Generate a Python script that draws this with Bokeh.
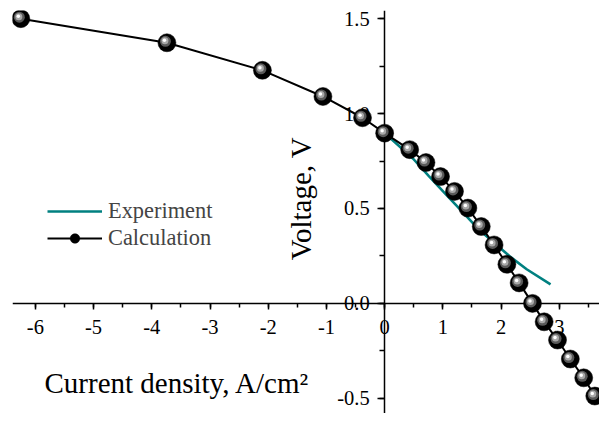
import numpy as np
from bokeh.plotting import figure
from bokeh.models import (Range1d, SingleIntervalTicker, NumeralTickFormatter,
                          Label, Legend, LegendItem)
from bokeh.embed import file_html
from bokeh.resources import INLINE

# ---- data ----
calc_x = [-6.25, -3.74, -2.10, -1.06, -0.38, 0.0, 0.43, 0.71, 0.96, 1.20, 1.43,
          1.66, 1.88, 2.10, 2.31, 2.54, 2.74, 2.97, 3.19, 3.42, 3.61]
calc_y = [1.50, 1.373, 1.228, 1.09, 0.978, 0.897, 0.81, 0.742, 0.668, 0.59, 0.502,
          0.405, 0.308, 0.206, 0.108, 0.0, -0.097, -0.193, -0.293, -0.392, -0.488]
exp_x = [0.0, 0.10, 0.49, 0.76, 1.04, 1.32, 1.60, 1.88, 2.16, 2.44, 2.85]
exp_y = [0.90, 0.87, 0.762, 0.67, 0.578, 0.487, 0.395, 0.32, 0.245, 0.18, 0.10]
series_names = ["Experiment", "Calculation"]
x_title = "Current density, A/cm²"
y_title = "Voltage, V"

FONT = "Liberation Serif"
TEAL = "#008080"
X0, X1 = -6.393, 3.691
Y0, Y1 = -0.58, 1.543
W, H = 599, 413
BL, BT = 12, 10

p = figure(width=W, height=H, output_backend="svg", toolbar_location=None,
           x_range=Range1d(X0, X1), y_range=Range1d(Y0, Y1),
           min_border_left=BL, min_border_right=0, min_border_top=BT, min_border_bottom=0)
p.outline_line_color = None
p.xgrid.visible = False
p.ygrid.visible = False
p.background_fill_color = "white"

# axes crossing at the origin
xa = p.xaxis[0]
ya = p.yaxis[0]
xa.fixed_location = 0
ya.fixed_location = 0
xa.ticker = SingleIntervalTicker(interval=1, num_minor_ticks=2)
ya.ticker = SingleIntervalTicker(interval=0.5, num_minor_ticks=2)
xa.formatter = NumeralTickFormatter(format="0")
ya.formatter = NumeralTickFormatter(format="0.0")
for ax in (xa, ya):
    ax.level = "underlay"
    ax.axis_line_width = 1.5
    ax.major_tick_line_width = 1.5
    ax.minor_tick_line_width = 1.5
    ax.major_tick_in = 0
    ax.minor_tick_in = 0
    ax.major_label_text_font = FONT
    ax.major_label_text_font_size = "20.5px"
    ax.major_label_text_color = "black"
    ax.axis_line_color = "black"
    ax.major_tick_line_color = "black"
    ax.minor_tick_line_color = "black"
xa.major_tick_out = 6
xa.minor_tick_out = 4
xa.major_label_standoff = 11
ya.major_tick_out = 7
ya.minor_tick_out = 5
ya.major_label_standoff = 8

# experiment curve
r_exp = p.line(exp_x, exp_y, line_color=TEAL, line_width=2.6)

# calculation curve with sphere-like markers
cx = np.array(calc_x)
cy = np.array(calc_y)
r_line = p.line(cx, cy, line_color="black", line_width=2)
r_ball = p.scatter(cx, cy, size=18, marker="circle", fill_color="black",
                   line_color="black", line_width=0.5)
# shading layers (offset a couple of pixels up-left)
px_x = (X1 - X0) / (W - BL)
px_y = (Y1 - Y0) / (H - BT)
p.scatter(cx - 1.5 * px_x, cy + 1.5 * px_y, size=11, marker="circle",
          fill_color="#5a5a5a", line_color=None)
p.scatter(cx - 2.0 * px_x, cy + 2.0 * px_y, size=7, marker="circle",
          fill_color="#a8a8a8", line_color=None)
p.scatter(cx - 2.5 * px_x, cy + 2.5 * px_y, size=3.5, marker="circle",
          fill_color="white", line_color=None)

legend = Legend(items=[
    LegendItem(label=series_names[0], renderers=[r_exp]),
    LegendItem(label=series_names[1], renderers=[r_line, r_ball]),
], location=(35, 162))
legend.label_text_font = FONT
legend.label_text_font_size = "22.4px"
legend.border_line_color = None
legend.background_fill_alpha = 0
legend.padding = 0
legend.margin = 0
legend.spacing = 1
legend.glyph_width = 55
legend.glyph_height = 24
legend.label_height = 24
legend.label_standoff = 6
p.add_layout(legend, "center")

# axis titles as free labels (axes cross in the middle of the frame)
p.add_layout(Label(x=32, y=31, x_units="screen", y_units="screen", text=x_title,
                   text_font=FONT, text_font_size="29px", text_align="left",
                   text_baseline="alphabetic", text_color="black"))
p.add_layout(Label(x=288, y=215, x_units="screen", y_units="screen", text=y_title,
                   angle=np.pi / 2, text_font=FONT, text_font_size="29px",
                   text_align="center", text_baseline="middle", text_color="black"))

open("out.html", "w").write(file_html(p, INLINE))
